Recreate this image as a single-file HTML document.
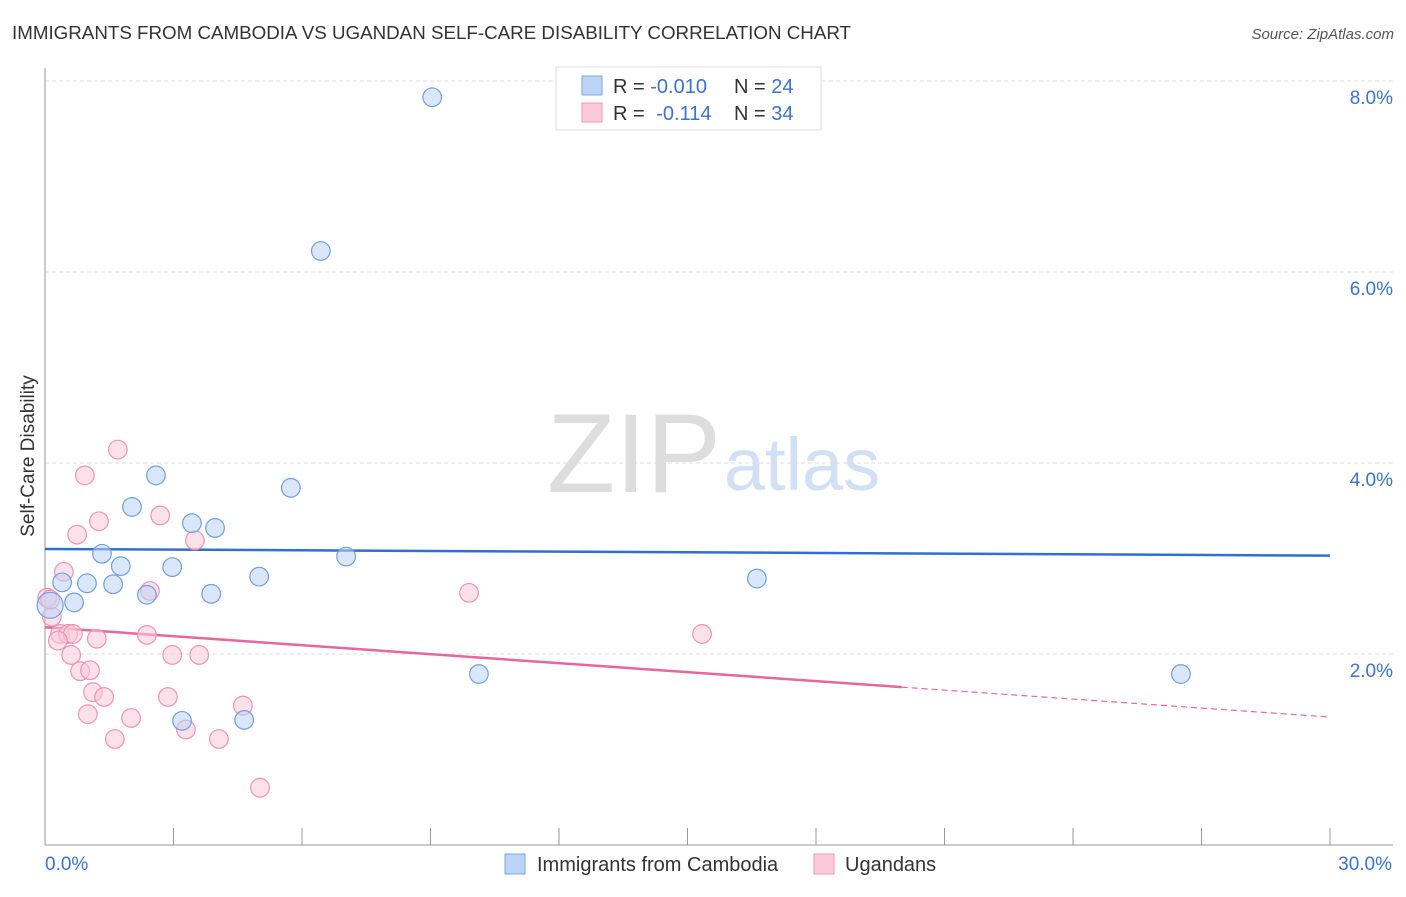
<!DOCTYPE html>
<html><head><meta charset="utf-8"><style>
body{margin:0;background:#fff;font-family:"Liberation Sans",sans-serif;}
svg text{font-family:"Liberation Sans",sans-serif;}
</style></head><body>
<svg id="c" width="1406" height="892" xmlns="http://www.w3.org/2000/svg">
<text x="12" y="39" font-size="18.5" fill="#333" textLength="839" lengthAdjust="spacingAndGlyphs">IMMIGRANTS FROM CAMBODIA VS UGANDAN SELF-CARE DISABILITY CORRELATION CHART</text>
<text x="1394" y="39" font-size="15" fill="#555" font-style="italic" text-anchor="end">Source: ZipAtlas.com</text>
<g opacity="0.6">
<text x="634" y="492" font-size="112" font-family="Liberation Serif" fill="#c8c8c8" text-anchor="middle">ZIP</text>
<text x="802" y="490" font-size="74" fill="#b5cdf0" text-anchor="middle">atlas</text>
</g>
<g id="grid"></g>
<g id="axes"></g>
<g id="lines"></g>
<g id="pts"></g>
<text transform="translate(34,456) rotate(-90)" font-size="19" fill="#333" text-anchor="middle">Self-Care Disability</text>
<g>
<rect x="556" y="67" width="265" height="63" fill="#fff" stroke="#ddd"/>
<rect x="582" y="76" width="20" height="19" fill="#bcd4f6" stroke="#7aa7e6"/>
<rect x="582" y="103" width="20" height="19" fill="#fbc9d8" stroke="#f09ab5"/>
<text x="613" y="93" font-size="20" fill="#333">R = <tspan fill="#3b73d1">-0.010</tspan></text>
<text x="734" y="93" font-size="20" fill="#333">N = <tspan fill="#3b73d1">24</tspan></text>
<text x="613" y="120" font-size="20" fill="#333">R =  <tspan fill="#3b73d1" dx="6">-0.114</tspan></text>
<text x="734" y="120" font-size="20" fill="#333">N = <tspan fill="#3b73d1">34</tspan></text>
</g>
<g>
<rect x="505" y="854" width="20" height="20" fill="#bcd4f6" stroke="#7aa7e6"/>
<text x="537" y="871" font-size="20" fill="#333">Immigrants from Cambodia</text>
<rect x="814" y="854" width="20" height="20" fill="#fbc9d8" stroke="#f09ab5"/>
<text x="845" y="871" font-size="20" fill="#333">Ugandans</text>
</g>
</svg>
<script>
const yTicks=[2,4,6,8];
const yTickLabels=["2.0%","4.0%","6.0%","8.0%"];
const xTickLabels=["0.0%","30.0%"];
const blueX=[9.04,6.44,2.59,5.74,2.03,3.43,3.97,1.33,7.03,1.77,2.97,0.40,0.98,1.59,5.00,16.62,2.38,3.88,0.68,0.12,10.13,26.52,3.20,4.65];
const blueY=[7.83,6.22,3.87,3.74,3.54,3.37,3.32,3.05,3.02,2.92,2.91,2.75,2.74,2.73,2.81,2.79,2.62,2.63,2.54,2.51,1.79,1.79,1.30,1.31];
const pinkX=[1.70,0.93,0.75,1.26,2.69,3.50,0.44,2.45,9.90,0.05,0.16,0.35,0.54,0.65,2.38,1.21,15.34,0.30,0.61,2.97,3.60,0.82,1.05,1.12,1.38,2.87,1.00,2.01,4.62,3.29,1.63,4.06,5.02,0.12];
const pinkY=[4.14,3.87,3.25,3.39,3.45,3.19,2.86,2.66,2.64,2.59,2.39,2.21,2.21,2.21,2.20,2.16,2.21,2.14,1.99,1.99,1.99,1.82,1.83,1.60,1.55,1.55,1.37,1.33,1.46,1.21,1.11,1.11,0.60,2.57];
const blueTrend=[3.10,3.03];
const pinkTrend=[2.28,1.34];
const pinkSolidEnd=20;
const NS="http://www.w3.org/2000/svg";
const X=v=>45+v*(1285/30), Y=v=>845-v*95.5;
function mk(t,a,p){const e=document.createElementNS(NS,t);for(const k in a)e.setAttribute(k,a[k]);p.appendChild(e);return e;}
const grid=document.getElementById('grid'),axes=document.getElementById('axes'),lines=document.getElementById('lines'),pts=document.getElementById('pts');
yTicks.forEach((t,i)=>{
 const l=mk('line',{x1:45,x2:1393,y1:Y(t),y2:Y(t),stroke:'#ddd','stroke-dasharray':'4,3'},grid);
 
 
 const tx=mk('text',{x:1393,y:Y(t)+23,'font-size':19,fill:'#3b73d1','text-anchor':'end'},grid);
 tx.textContent=yTickLabels[i];
 
 
});
const ya=mk('line',{x1:45,x2:45,y1:68,y2:845,stroke:'#999'},axes);


const xa=mk('line',{x1:45,x2:1393,y1:845,y2:845,stroke:'#999'},axes);


for(let i=1;i<=10;i++){const v=i*3;const t=mk('line',{x1:X(v),x2:X(v),y1:828,y2:845,stroke:'#999'},axes);
 
 }
[[0,'start'],[30,'end']].forEach(([v,a],i)=>{const t=mk('text',{x:X(v)+(i?62:0),y:870,'font-size':19,fill:'#3b73d1','text-anchor':a},axes);t.textContent=xTickLabels[i];
 
 });
function dots(xs,ys,fill,stroke,name){xs.forEach((x,i)=>{const c=mk('circle',{cx:X(x),cy:Y(ys[i]),r:(name==='cambodia-point'&&i===19)?13:9.3,fill:fill,stroke:stroke,'stroke-width':1.2,'fill-opacity':0.55},pts);
 
 });}
dots(pinkX,pinkY,'#fbc9d8','#ef93b0','ugandans-point');
dots(blueX,blueY,'#bcd4f6','#6f9fe3','cambodia-point');
const bl=mk('line',{x1:X(0),y1:Y(blueTrend[0]),x2:X(30),y2:Y(blueTrend[1]),stroke:'#2f6fd0','stroke-width':2.5},lines);


const pm=pinkTrend[0]+(pinkTrend[1]-pinkTrend[0])*pinkSolidEnd/30;
const pl=mk('line',{x1:X(0),y1:Y(pinkTrend[0]),x2:X(pinkSolidEnd),y2:Y(pm),stroke:'#e8679a','stroke-width':2.5},lines);


const pd=mk('line',{x1:X(pinkSolidEnd),y1:Y(pm),x2:X(30),y2:Y(pinkTrend[1]),stroke:'#e8679a','stroke-width':1.2,'stroke-dasharray':'6,4'},lines);


</script>
</body></html>
